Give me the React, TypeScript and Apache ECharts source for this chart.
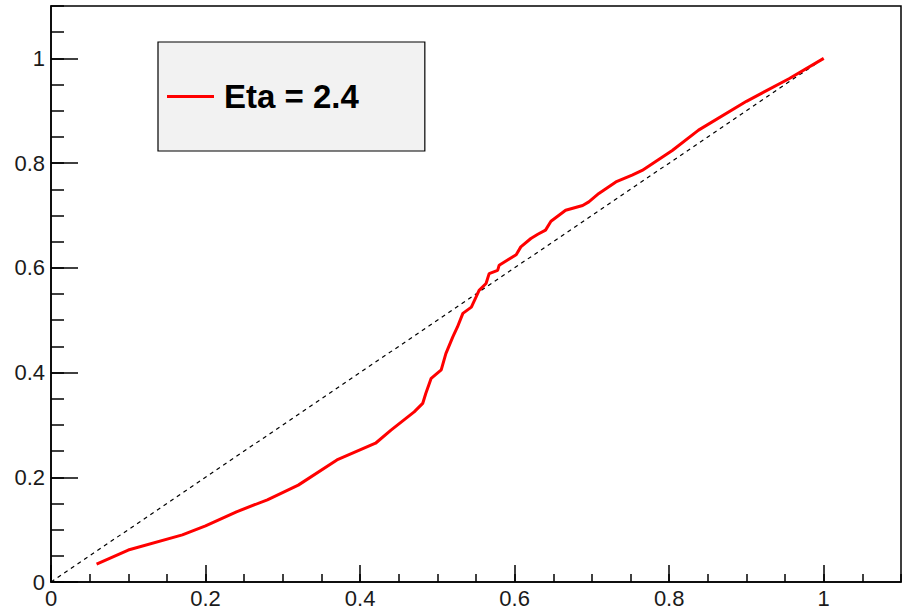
import React, { useEffect, useRef } from "react";
import * as echarts from "echarts";

const seriesName = "Eta = 2.4";
const etaX = [0.059, 0.10, 0.17, 0.20, 0.24, 0.28, 0.32, 0.37, 0.42, 0.44, 0.47, 0.481, 0.485, 0.492, 0.505, 0.511, 0.520, 0.526, 0.533, 0.544, 0.550, 0.554, 0.563, 0.567, 0.578, 0.580, 0.602, 0.608, 0.621, 0.630, 0.640, 0.647, 0.666, 0.688, 0.696, 0.709, 0.731, 0.752, 0.765, 0.804, 0.838, 0.90, 0.955, 1.0];
const etaY = [0.034, 0.061, 0.09, 0.107, 0.134, 0.157, 0.185, 0.233, 0.265, 0.29, 0.325, 0.341, 0.36, 0.389, 0.405, 0.436, 0.468, 0.487, 0.513, 0.525, 0.544, 0.557, 0.570, 0.589, 0.595, 0.605, 0.625, 0.640, 0.656, 0.664, 0.672, 0.689, 0.710, 0.719, 0.726, 0.742, 0.764, 0.777, 0.786, 0.824, 0.863, 0.918, 0.961, 1.0];
const diagX = [0, 1];
const diagY = [0, 1];

export default function App() {
  const ref = useRef<HTMLDivElement>(null);
  useEffect(() => {
    document.body.style.margin = "0";
    const chart = echarts.init(ref.current!, null, { renderer: "svg" });
    const labelStyle = { fontFamily: "Liberation Sans, Arial, sans-serif", fontSize: 22, color: "#1a1a1a" };
    const line = { lineStyle: { color: "#000", width: 1.5 } };
    chart.setOption({
      animation: false,
      backgroundColor: "#fff",
      grid: { left: 51, top: 6, right: 1, bottom: 29, show: true, borderColor: "#000", borderWidth: 1.5, backgroundColor: "transparent" },
      legend: {
        data: [seriesName],
        left: 158,
        top: 42,
        orient: "vertical",
        backgroundColor: "#f2f2f2",
        borderColor: "#000",
        borderWidth: 1.2,
        borderRadius: 0,
        padding: [38, 66, 38, 9],
        icon: "rect",
        itemWidth: 47,
        itemHeight: 3,
        textStyle: { fontFamily: "Liberation Sans, Arial, sans-serif", fontSize: 33, fontWeight: "bold", color: "#000", lineHeight: 32, padding: [0, 0, 0, 5] },
      },
      xAxis: [
        {
          type: "value", min: 0, max: 1.1, interval: 0.2,
          axisLine: { show: true, ...line },
          axisTick: { show: true, inside: true, length: 17, ...line },
          axisLabel: { ...labelStyle, margin: 5, showMaxLabel: false },
          splitLine: { show: false },
        },
        {
          type: "value", min: 0, max: 1.1, interval: 0.05, position: "bottom",
          axisLine: { show: false },
          axisTick: { show: true, inside: true, length: 8, ...line },
          axisLabel: { show: false },
          splitLine: { show: false },
        },
      ],
      yAxis: [
        {
          type: "value", min: 0, max: 1.1, interval: 0.2,
          axisLine: { show: true, ...line },
          axisTick: { show: true, inside: true, length: 27, ...line },
          axisLabel: { ...labelStyle, margin: 6, showMaxLabel: false },
          splitLine: { show: false },
        },
        {
          type: "value", min: 0, max: 1.1, interval: 0.05, position: "left",
          axisLine: { show: false },
          axisTick: { show: true, inside: true, length: 13, ...line },
          axisLabel: { show: false },
          splitLine: { show: false },
        },
      ],
      series: [
        {
          name: "diagonal",
          type: "line",
          data: diagX.map((x, i) => [x, diagY[i]]),
          showSymbol: false,
          lineStyle: { color: "#000", width: 1.2, type: [4, 4] },
          silent: true,
        },
        {
          name: seriesName,
          type: "line",
          data: etaX.map((x, i) => [x, etaY[i]]),
          showSymbol: false,
          itemStyle: { color: "#ff0000" },
          lineStyle: { color: "#ff0000", width: 3 },
        },
      ],
    });
    return () => chart.dispose();
  }, []);
  return <div ref={ref} style={{ width: 902, height: 611 }} />;
}
